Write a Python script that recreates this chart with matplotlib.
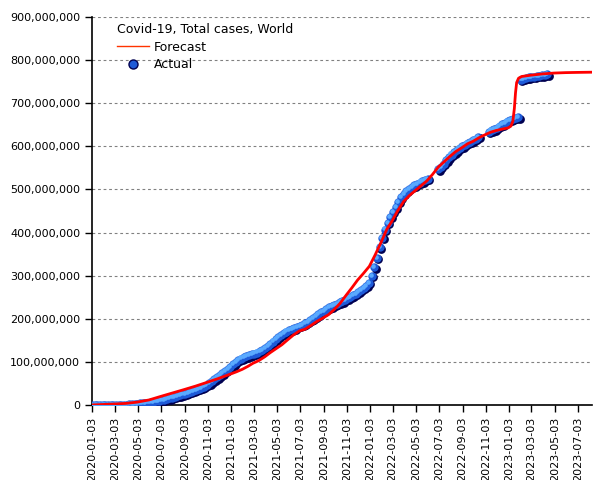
import numpy as np
import pandas as pd
import matplotlib
matplotlib.use("Agg")
import matplotlib.pyplot as plt
import matplotlib.dates as mdates
import matplotlib.ticker as mticker
from matplotlib.lines import Line2D
from matplotlib.transforms import offset_copy

# ============================================================
# DATA  (values in millions of cases)
# ============================================================

# weekly actual totals, three runs split by reporting gaps
act_start = ["2020-01-03", "2022-07-01", "2022-11-11"]
act_seg1 = [0, 0, 0, 0.001, 0.01, 0.03, 0.05, 0.08, 0.08, 0.1,
            0.14, 0.27, 0.6, 1.1, 1.7, 2.2, 2.8, 3.4, 3.9, 4.5,
            5.2, 6.0, 6.8, 7.7, 8.7, 9.8, 11.1, 12.6, 14.2, 15.9,
            17.6, 19.4, 21.2, 23.0, 24.8, 26.7, 28.7, 30.8, 32.9, 35.0,
            37.5, 40.0, 43.0, 46.5, 51.0, 55.5, 60.0, 64.5, 69.5, 74.0,
            79.0, 84.0, 89.0, 95.0, 100.0, 104.5, 108.0, 111.0, 113.5, 115.5,
            117.5, 119.5, 122.0, 125.0, 128.5, 132.5, 137.0, 142.0, 147.5, 153.0,
            158.0, 163.0, 167.0, 170.5, 173.5, 176.0, 178.5, 181.0, 183.5, 186.5,
            190.0, 193.5, 197.5, 201.5, 206.0, 210.5, 215.0, 219.0, 223.0, 226.5,
            229.5, 232.5, 235.0, 238.0, 241.0, 244.0, 247.5, 251.0, 254.5, 258.5,
            262.5, 267.0, 272.0, 277.0, 283.0, 300.0, 320.0, 342.0, 366.0, 388.0,
            407.0, 423.0, 437.0, 448.0, 459.0, 471.0, 482.0, 490.0, 497.0, 502.0,
            506.0, 510.0, 513.0, 516.0, 519.0, 522.0, 525.0]
act_seg2 = [547, 553, 560, 568, 575, 581, 586, 591, 596, 600,
            604, 608, 611, 614, 617, 622]
act_seg3 = [634, 637, 640, 643, 647, 651, 655, 659, 662, 664,
            666, 667, 755, 757, 758.5, 760, 761, 762, 763, 764,
            765, 766, 767]

fc_dates = ["2020-01-03", "2020-02-01", "2020-03-01", "2020-04-01", "2020-05-01",
            "2020-06-01", "2020-07-01", "2020-08-01", "2020-09-01", "2020-10-01",
            "2020-11-01", "2020-12-01", "2021-01-01", "2021-01-16", "2021-02-01",
            "2021-02-16", "2021-03-01", "2021-03-16", "2021-04-01", "2021-04-16",
            "2021-05-01", "2021-05-16", "2021-06-01", "2021-06-16", "2021-07-01",
            "2021-07-16", "2021-08-01", "2021-08-16", "2021-09-01", "2021-09-16",
            "2021-10-01", "2021-10-16", "2021-11-01", "2021-11-16", "2021-12-01",
            "2021-12-16", "2022-01-01", "2022-01-16", "2022-02-01", "2022-02-16",
            "2022-03-01", "2022-03-16", "2022-04-01", "2022-04-16", "2022-05-01",
            "2022-05-16", "2022-06-01", "2022-06-16", "2022-07-01", "2022-07-16",
            "2022-08-01", "2022-08-16", "2022-09-01", "2022-09-16", "2022-10-01",
            "2022-10-16", "2022-11-01", "2022-11-16", "2022-12-01", "2022-12-16",
            "2023-01-01", "2023-01-08", "2023-01-13", "2023-01-17", "2023-01-20",
            "2023-01-23", "2023-01-28", "2023-02-05", "2023-03-01", "2023-04-01",
            "2023-05-01", "2023-06-01", "2023-07-01", "2023-08-09"]
fc_vals = [0.5, 1.5, 2.5, 4, 7,
           12, 20, 28, 36, 44,
           53, 62, 72, 77, 83,
           90, 97, 103, 112, 122,
           131, 140, 152, 163, 172,
           176, 185, 194, 202, 210,
           222, 236, 255, 272, 290,
           305, 322, 348, 378, 408,
           426, 450, 472, 486, 497,
           508, 520, 535, 552, 564,
           577, 588, 597, 606, 612,
           620, 627, 633, 637, 640,
           643, 647, 658, 688, 724,
           748, 758, 762, 765, 768,
           770, 771, 771.5, 772]

tick_dates = ["2020-01-03", "2020-03-03", "2020-05-03", "2020-07-03", "2020-09-03",
              "2020-11-03", "2021-01-03", "2021-03-03", "2021-05-03", "2021-07-03",
              "2021-09-03", "2021-11-03", "2022-01-03", "2022-03-03", "2022-05-03",
              "2022-07-03", "2022-09-03", "2022-11-03", "2023-01-03", "2023-03-03",
              "2023-05-03", "2023-07-03"]

title = "Covid-19, Total cases, World"

# ============================================================
# PLOT
# ============================================================

plt.rcParams['font.family'] = ['DejaVu Sans']

fig = plt.figure(figsize=(6.05, 4.8), dpi=100)
ax = fig.add_axes([0.152, 0.156, 0.8265, 0.8086])

act_d, act_v = [], []
for start, seg in zip(act_start, [act_seg1, act_seg2, act_seg3]):
    act_d += list(pd.date_range(start, periods=len(seg), freq="7D"))
    act_v += [v * 1e6 for v in seg]
act_d = pd.to_datetime(act_d)
act_v = np.array(act_v)

# sphere-like dots: dark shadow, body, highlight
shadow = offset_copy(ax.transData, fig=fig, x=1.4, y=-1.4, units="dots")
light = offset_copy(ax.transData, fig=fig, x=-1.1, y=1.1, units="dots")
ax.scatter(act_d, act_v, s=40, color="#000050", linewidths=0, transform=shadow, zorder=3)
ax.scatter(act_d, act_v, s=36, color="#1e5ad8", linewidths=0, zorder=4)
ax.scatter(act_d, act_v, s=11, color="#5aaaff", linewidths=0, transform=light, zorder=5)

ax.plot(pd.to_datetime(fc_dates), np.array(fc_vals) * 1e6, color="#ff0000", lw=2, zorder=6)

ax.set_ylim(0, 9e8)
ax.set_xlim(pd.Timestamp("2020-01-03"), pd.Timestamp("2023-08-09"))
ax.yaxis.set_major_locator(mticker.MultipleLocator(1e8))
ax.yaxis.set_major_formatter(mticker.FuncFormatter(lambda v, p: f"{int(v):,}"))
ax.set_xticks(pd.to_datetime(tick_dates))
ax.xaxis.set_major_formatter(mdates.DateFormatter("%Y-%m-%d"))
plt.setp(ax.get_xticklabels(), rotation=90)
ax.tick_params(labelsize=8, length=5, width=1, color="black")

ax.grid(axis="y", linestyle=(0, (2.5, 2.5)), color="#808080", lw=0.8)
ax.set_axisbelow(True)
for s in ["top", "right"]:
    ax.spines[s].set_visible(False)
for s in ["left", "bottom"]:
    ax.spines[s].set_linewidth(1.2)

handles = [Line2D([], [], color="#ff3300", lw=1),
           Line2D([], [], color="#1e5ad8", marker="o", ls="none", markersize=6.5,
                  markeredgecolor="#000050")]
leg = ax.legend(handles, ["Forecast", "Actual"], title=title, loc="upper left",
                bbox_to_anchor=(0.037, 1.0), frameon=False, fontsize=9,
                title_fontsize=9, handlelength=2.6, handletextpad=0.4,
                labelspacing=0.35, borderaxespad=0.1)
leg._legend_box.align = "left"

fig.savefig("out.png", dpi=100)
